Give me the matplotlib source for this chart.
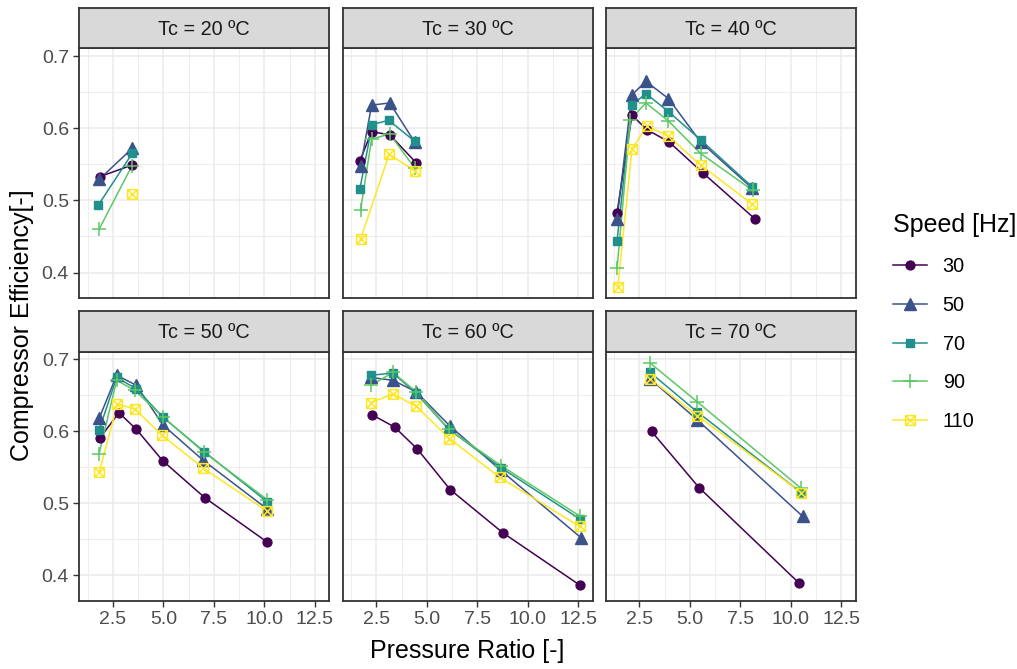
import numpy as np
import matplotlib
matplotlib.use('Agg')
import matplotlib.pyplot as plt
from matplotlib.path import Path

plt.rcParams['font.family'] = ['Liberation Sans', 'DejaVu Sans']

# ============================================================
#  데이터: 응축온도(Tc)별, 속도별 압력비 / 압축기 효율
# ============================================================
tc_values = [20, 30, 40, 50, 60, 70]
speeds = [30, 50, 70, 90, 110]

# 각 리스트: speeds 순서 (30, 50, 70, 90, 110 Hz)
pr_tc20 = [[1.86, 3.45], [1.81, 3.45], [1.76, 3.45], [1.81, 3.42], [3.42]]
eff_tc20 = [[0.533, 0.549], [0.529, 0.572], [0.493, 0.565], [0.460, 0.547], [0.509]]

pr_tc30 = [[1.68, 2.26, 3.16, 4.47], [1.71, 2.26, 3.16, 4.39], [1.68, 2.29, 3.11, 4.39],
           [1.71, 2.26, 3.16, 4.39], [1.71, 3.13, 4.39]]
eff_tc30 = [[0.555, 0.595, 0.591, 0.552], [0.547, 0.632, 0.635, 0.581], [0.516, 0.605, 0.611, 0.582],
            [0.486, 0.585, 0.592, 0.545], [0.446, 0.564, 0.541]]

pr_tc40 = [[1.39, 2.13, 2.87, 3.97, 5.65, 8.24], [1.39, 2.12, 2.82, 3.94, 5.53, 8.08],
           [1.39, 2.12, 2.82, 3.94, 5.53, 8.08], [1.39, 2.05, 2.82, 3.94, 5.53, 8.11],
           [1.43, 2.13, 2.87, 3.94, 5.53, 8.08]]
eff_tc40 = [[0.483, 0.618, 0.598, 0.581, 0.538, 0.474], [0.474, 0.646, 0.665, 0.641, 0.581, 0.517],
            [0.444, 0.632, 0.648, 0.623, 0.584, 0.519], [0.406, 0.612, 0.635, 0.610, 0.565, 0.514],
            [0.380, 0.571, 0.603, 0.589, 0.549, 0.495]]

pr_tc50 = [[1.86, 2.79, 3.65, 4.97, 7.04, 10.15], [1.81, 2.68, 3.66, 4.97, 6.96, 10.15],
           [1.81, 2.68, 3.66, 4.97, 7.01, 10.15], [1.81, 2.68, 3.58, 4.97, 7.01, 10.15],
           [1.81, 2.72, 3.58, 4.92, 6.96, 10.15]]
eff_tc50 = [[0.591, 0.626, 0.603, 0.559, 0.508, 0.446], [0.618, 0.678, 0.664, 0.609, 0.560, 0.492],
            [0.602, 0.675, 0.659, 0.620, 0.572, 0.502], [0.569, 0.671, 0.657, 0.620, 0.571, 0.505],
            [0.543, 0.638, 0.631, 0.595, 0.549, 0.489]]

pr_tc60 = [[2.29, 3.40, 4.51, 6.16, 8.77, 12.60], [2.22, 3.32, 4.47, 6.16, 8.66, 12.65],
           [2.22, 3.32, 4.47, 6.08, 8.70, 12.60], [2.22, 3.32, 4.47, 6.08, 8.70, 12.60],
           [2.22, 3.32, 4.47, 6.12, 8.62, 12.57]]
eff_tc60 = [[0.623, 0.606, 0.576, 0.519, 0.459, 0.386], [0.675, 0.671, 0.655, 0.607, 0.546, 0.452],
            [0.678, 0.681, 0.653, 0.603, 0.549, 0.478], [0.664, 0.682, 0.655, 0.603, 0.552, 0.482],
            [0.640, 0.652, 0.635, 0.590, 0.536, 0.468]]

pr_tc70 = [[3.10, 5.45, 10.42], [3.03, 5.37, 10.59], [3.03, 5.37, 10.51],
           [3.03, 5.37, 10.51], [3.03, 5.37, 10.51]]
eff_tc70 = [[0.600, 0.522, 0.389], [0.673, 0.616, 0.482], [0.682, 0.627, 0.515],
            [0.695, 0.641, 0.521], [0.673, 0.622, 0.515]]

x_ticks = [2.5, 5.0, 7.5, 10.0, 12.5]
x_tick_labels = ['2.5', '5.0', '7.5', '10.0', '12.5']
y_ticks = [0.4, 0.5, 0.6, 0.7]
y_tick_labels = ['0.4', '0.5', '0.6', '0.7']

pr_all = [pr_tc20, pr_tc30, pr_tc40, pr_tc50, pr_tc60, pr_tc70]
eff_all = [eff_tc20, eff_tc30, eff_tc40, eff_tc50, eff_tc60, eff_tc70]

# ============================================================
#  스타일
# ============================================================
colors = ['#440154', '#3B528B', '#21908C', '#5DC863', '#FDE725']

# 사각형 + X 마커
box_cross = Path(
    [(-1, -1), (1, -1), (1, 1), (-1, 1), (-1, -1), (-1, -1), (1, 1), (-1, 1), (1, -1)],
    [Path.MOVETO, Path.LINETO, Path.LINETO, Path.LINETO, Path.CLOSEPOLY,
     Path.MOVETO, Path.LINETO, Path.MOVETO, Path.LINETO])

marker_kw = [
    dict(marker='o', markersize=6.4),
    dict(marker='^', markersize=8.0),
    dict(marker='s', markersize=6.2),
    dict(marker='+', markersize=9.5, markeredgewidth=1.1),
    dict(marker=box_cross, markersize=7.0, markerfacecolor='none', markeredgewidth=1.1),
]

BORDER = '#333333'
GRID = '#EBEBEB'

W, H = 1017, 669


def px_box(left, top, right, bottom):
    return [left / W, 1 - bottom / H, (right - left) / W, (bottom - top) / H]


def expand(vals, frac=0.05):
    lo, hi = min(vals), max(vals)
    pad = (hi - lo) * frac
    return lo - pad, hi + pad


flat_x = [v for panel in pr_all for s in panel for v in s]
flat_y = [v for panel in eff_all for s in panel for v in s]
xlim = expand(flat_x)
ylim = expand(flat_y)

col_lefts = [79.3, 342.7, 605.7]
col_w = 249.8
rows = [(8.3, 48.3, 298.3), (310.7, 351.7, 601.0)]  # (strip top, panel top, panel bottom)

fig = plt.figure(figsize=(W / 100, H / 100), dpi=100)

handles = []
for i, tc in enumerate(tc_values):
    r, c = divmod(i, 3)
    s_top, p_top, p_bot = rows[r]
    left = col_lefts[c]
    ax = fig.add_axes(px_box(left, p_top, left + col_w, p_bot))

    for k, spd in enumerate(speeds):
        xs = pr_all[i][k]
        ys = eff_all[i][k]
        ax.plot(xs, ys, color=colors[k], lw=1.1, zorder=2 + k * 0.01)
        ax.plot(xs, ys, color=colors[k], lw=0, zorder=3 + k * 0.01,
                markeredgecolor=colors[k], **marker_kw[k])
        if i == 0:
            handles.append(plt.Line2D([], [], color=colors[k], lw=1.1,
                                      markeredgecolor=colors[k], **marker_kw[k]))

    ax.set_xlim(xlim)
    ax.set_ylim(ylim)
    ax.set_xticks(x_ticks)
    ax.set_yticks(y_ticks)
    ax.set_xticks([1.25, 3.75, 6.25, 8.75, 11.25], minor=True)
    ax.set_yticks([0.45, 0.55, 0.65], minor=True)
    ax.grid(True, which='major', color=GRID, lw=1.1, zorder=0)
    ax.grid(True, which='minor', color=GRID, lw=0.6, zorder=0)
    ax.set_axisbelow(True)
    ax.tick_params(which='minor', length=0)
    ax.tick_params(which='major', length=4.5, width=1.0, color=BORDER,
                   labelsize=14, labelcolor='#4D4D4D', pad=3)

    if r == 1:
        ax.set_xticklabels(x_tick_labels)
    else:
        ax.tick_params(axis='x', which='major', length=0, labelbottom=False)
    if c == 0:
        ax.set_yticklabels(y_tick_labels)
    else:
        ax.tick_params(axis='y', which='major', length=0, labelleft=False)

    for sp in ax.spines.values():
        sp.set_color(BORDER)
        sp.set_linewidth(1.3)

    # 패널 상단 스트립
    sax = fig.add_axes(px_box(left, s_top, left + col_w, p_top))
    sax.set_facecolor('#D9D9D9')
    sax.set_xticks([])
    sax.set_yticks([])
    for sp in sax.spines.values():
        sp.set_color(BORDER)
        sp.set_linewidth(1.3)
    sax.text(0.5, 0.47, f'Tc = {tc} ºC', ha='center', va='center',
             fontsize=14.3, color='#1A1A1A', transform=sax.transAxes)

fig.text(467.3 / W, 1 - 651 / H, 'Pressure Ratio [-]', ha='center', va='center', fontsize=18)
fig.text(22 / W, 1 - 325 / H, 'Compressor Efficiency[-]', ha='center', va='center',
         rotation=90, fontsize=18)

leg = fig.legend(handles, [str(s) for s in speeds], loc='upper left',
                 bbox_to_anchor=(893 / W, 1 - 213 / H), frameon=False,
                 title='Speed [Hz]', title_fontsize=18, fontsize=14.3,
                 handlelength=1.7, handletextpad=0.8, labelspacing=1.0,
                 borderpad=0, borderaxespad=0, alignment='left')

fig.savefig('out.png', dpi=100)
plt.close(fig)
